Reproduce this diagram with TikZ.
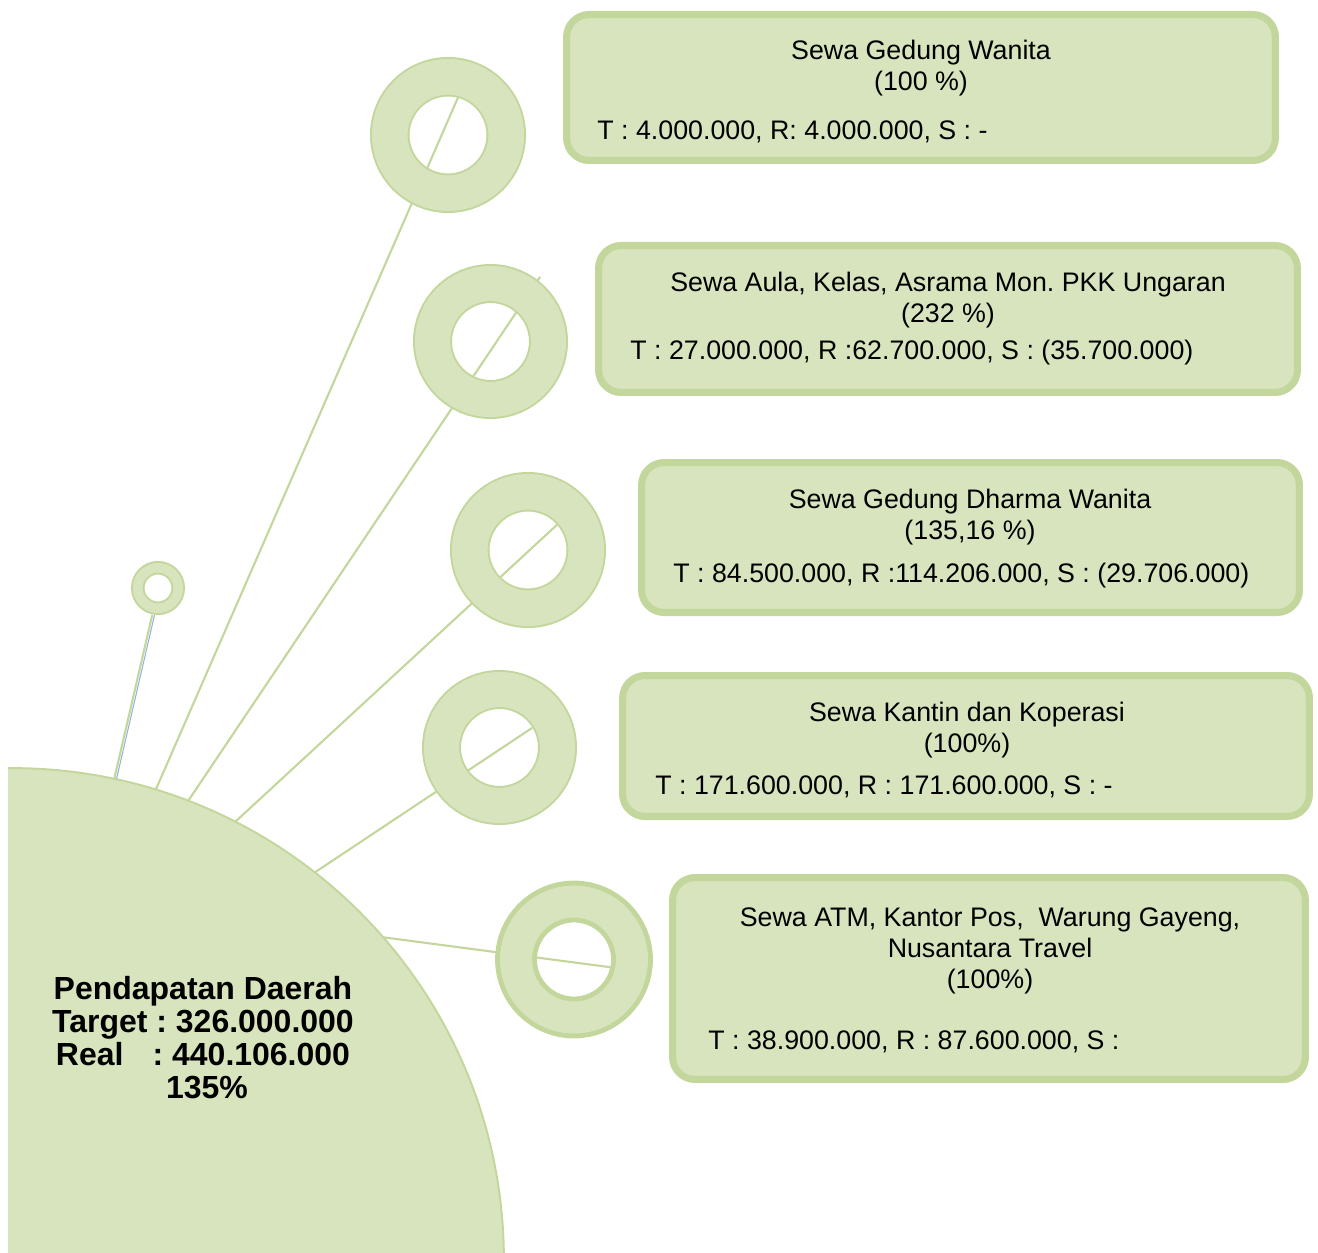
\documentclass[tikz,border=0pt]{standalone}
\usepackage{fontspec}
\setmainfont{Liberation Sans}
\usetikzlibrary{calc, positioning}
\pgfdeclarelayer{background}
\pgfsetlayers{background,main}
\definecolor{olivePale}{HTML}{D7E4BD}
\definecolor{oliveEdge}{HTML}{C3D69B}
\definecolor{spokeBlue}{HTML}{95B3D7}
\frenchspacing
\tikzset{
    ring/.style={circle, draw=oliveEdge, line width=1.1pt, double=olivePale, inner sep=0pt, outer sep=0pt},
    bigDisc/.style={circle, draw=oliveEdge, fill=olivePale, line width=1.1pt, inner sep=0pt, outer sep=0pt, minimum size=19.68cm},
    sewaBox/.style={rectangle, rounded corners=0.45cm, draw=oliveEdge, fill=olivePale, line width=4pt, inner sep=0pt},
    sewaTitle/.style={align=center, inner sep=0pt, font=\fontsize{15.25pt}{17.6pt}\selectfont},
    sewaValue/.style={anchor=mid west, inner sep=0pt, font=\fontsize{15.25pt}{17.6pt}\selectfont},
    pdLabel/.style={align=center, inner sep=0pt, font=\bfseries\fontsize{18.2pt}{18.7pt}\selectfont},
    spoke/.style={draw=oliveEdge, line width=1.2pt},
}
\newcommand{\drawSpoke}[4]{
    \draw[spoke] (pd.#1) -- ($(#2.center)+(#3:#4)$);
}

\begin{document}
\begin{tikzpicture}[x=0.02cm, y=-0.02cm]
    \useasboundingbox (0,0) rectangle (1318,1253);

    % rings
    \node[ring, minimum size=0.81cm, double distance=5.5pt] (r0) at (158,588) {};
    \node[ring, minimum size=2.33cm, double distance=20.3pt] (r1) at (448,135) {};
    \node[ring, minimum size=2.32cm, double distance=20pt] (r2) at (490.5,341.5) {};
    \node[ring, minimum size=2.33cm, double distance=20.3pt] (r3) at (528,550) {};
    \node[ring, minimum size=2.32cm, double distance=20pt] (r4) at (499.5,747.5) {};
    \node[ring, minimum size=2.32cm, line width=2.8pt, double distance=18.2pt] (r5) at (574,959.5) {};

    % boxes
    \node[sewaBox, minimum width=14.18cm, minimum height=2.92cm] (b1) at (921,87.5) {};
    \node[sewaBox, minimum width=13.98cm, minimum height=2.94cm] (b2) at (948,319) {};
    \node[sewaBox, minimum width=13.16cm, minimum height=3cm] (b3) at (970.5,537.5) {};
    \node[sewaBox, minimum width=13.74cm, minimum height=2.82cm] (b4) at (966,746) {};
    \node[sewaBox, minimum width=12.66cm, minimum height=4.04cm] (b5) at (989,978.5) {};

    \node[sewaTitle] (t1) at (921,68.5) {Sewa Gedung Wanita\\(100 \%)};
    \node[sewaValue] (v1) at (597,135) {T : 4.000.000, R: 4.000.000, S : -};
    \node[sewaTitle] (t2) at (948,300.5) {Sewa Aula, Kelas, Asrama Mon. PKK Ungaran\\(232 \%)};
    \node[sewaValue] (v2) at (630,355) {T : 27.000.000, R :62.700.000, S : (35.700.000)};
    \node[sewaTitle] (t3) at (970,517.5) {Sewa Gedung Dharma Wanita\\(135,16 \%)};
    \node[sewaValue] (v3) at (673,578) {T : 84.500.000, R :114.206.000, S : (29.706.000)};
    \node[sewaTitle] (t4) at (967,730) {Sewa Kantin dan Koperasi\\(100\%)};
    \node[sewaValue] (v4) at (655,790) {T : 171.600.000, R : 171.600.000, S : -};
    \node[sewaTitle] (t5) at (990,950.5) {Sewa ATM, Kantor Pos,\ \ Warung Gayeng,\\Nusantara Travel\\(100\%)};
    \node[sewaValue] (v5) at (708,1045) {T : 38.900.000, R : 87.600.000, S :};

    \node[pdLabel] (pdText) at (203,1037.5) {Pendapatan Daerah\\Target : 326.000.000\\Real\hspace{16.6pt}: 440.106.000\\\hspace*{4.5pt}135\%};

    \begin{pgfonlayer}{background}
        \begin{scope}
            \clip (8,0) rectangle (1318,1253);
            \node[bigDisc] (pd) at (12,1260) {};
        \end{scope}
        \draw[spokeBlue, line width=0.6pt] ($(pd.78)+(1.3pt,0)$) -- ($(r0.center)+(-102:0.55cm)+(1.3pt,0)$);
        \drawSpoke{78}{r0}{-102}{0.55cm}
        \drawSpoke{73}{r1}{75}{0.78cm}
        \drawSpoke{69}{r2}{52.5}{1.63cm}
        \drawSpoke{63}{r3}{41}{0.77cm}
        \drawSpoke{52}{r4}{31}{0.76cm}
        \drawSpoke{41}{r5}{-12}{0.74cm}
    \end{pgfonlayer}
\end{tikzpicture}
\end{document}
